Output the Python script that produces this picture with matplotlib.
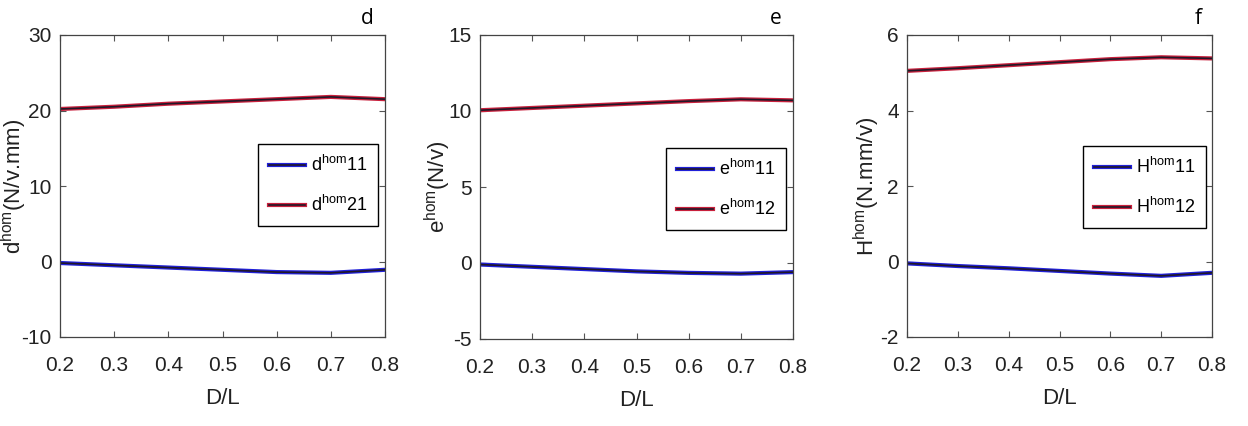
import matplotlib
matplotlib.use("Agg")
import matplotlib.pyplot as plt
import matplotlib.patheffects as pe

# D/L ratio
dl = [0.2, 0.3, 0.4, 0.5, 0.6, 0.7, 0.8]

# panel d
d11 = [-0.2, -0.5, -0.8, -1.1, -1.4, -1.5, -1.1]
d21 = [20.2, 20.5, 20.9, 21.2, 21.5, 21.8, 21.5]
# panel e
e11 = [-0.1, -0.25, -0.4, -0.55, -0.65, -0.7, -0.6]
e12 = [10.05, 10.2, 10.35, 10.5, 10.65, 10.77, 10.7]
# panel f
h11 = [-0.05, -0.12, -0.18, -0.25, -0.32, -0.38, -0.3]
h12 = [5.05, 5.12, 5.2, 5.28, 5.36, 5.41, 5.38]

panels = [
    dict(y1=d11, y2=d21, l1='d$^{\\rm hom}$11', l2='d$^{\\rm hom}$21',
         ylab='d$^{\\rm hom}$(N/v.mm)', ylim=(-10, 30), yticks=[-10, 0, 10, 20, 30], tag='d'),
    dict(y1=e11, y2=e12, l1='e$^{\\rm hom}$11', l2='e$^{\\rm hom}$12',
         ylab='e$^{\\rm hom}$(N/v)', ylim=(-5, 15), yticks=[-5, 0, 5, 10, 15], tag='e'),
    dict(y1=h11, y2=h12, l1='H$^{\\rm hom}$11', l2='H$^{\\rm hom}$12',
         ylab='H$^{\\rm hom}$(N.mm/v)', ylim=(-2, 6), yticks=[-2, 0, 2, 4, 6], tag='f'),
]

sans = ['Liberation Sans', 'DejaVu Sans']
plt.rcParams['mathtext.fontset'] = 'custom'
plt.rcParams['mathtext.rm'] = 'Liberation Sans'
plt.rcParams['mathtext.it'] = 'Liberation Sans:italic'

fig = plt.figure(figsize=(12.48, 4.26), dpi=100)
W, H = 1248, 426
boxes = [(60, 385, 35, 337), (480, 793, 35, 339), (907, 1212, 35, 337)]
legbox = [(284, 378, 144), (696, 786, 148), (1117, 1206, 146)]
ylab_x = [29, 453, 882]

for p, (x0, x1, y0, y1), (lx0, lx1, ly0), yx in zip(panels, boxes, legbox, ylab_x):
    ax = fig.add_axes([x0 / W, 1 - y1 / H, (x1 - x0) / W, (y1 - y0) / H])
    for y, c, lab in [(p['y1'], '#2020d8', p['l1']), (p['y2'], '#c8203c', p['l2'])]:
        ax.plot(dl, y, color='#201828', lw=1.2, label=lab,
                path_effects=[pe.Stroke(linewidth=3.0, foreground=c), pe.Normal()])
    ax.set_xlim(0.2, 0.8)
    ax.set_ylim(*p['ylim'])
    ax.set_xticks(dl)
    ax.set_xticklabels(['%.1f' % v for v in dl], family=sans, fontsize=15)
    ax.set_yticks(p['yticks'])
    ax.set_yticklabels([str(v) for v in p['yticks']], family=sans, fontsize=15)
    ax.tick_params(direction='in', top=True, right=True, length=4, color='#555555',
                   labelcolor='#222222')
    ax.tick_params(axis='x', pad=14)
    ax.tick_params(axis='y', pad=6)
    for s in ax.spines.values():
        s.set_color('#444444')
        s.set_linewidth(0.9)
    ax.set_xlabel('D/L', family=sans, fontsize=16, labelpad=9, color='#222222')
    ax.set_ylabel(p['ylab'], fontsize=16, family=sans, color='#222222')
    ax.yaxis.set_label_coords((yx - x0) / (x1 - x0), 0.5)
    ax.text(0.965, 1.02, p['tag'], transform=ax.transAxes, ha='right', va='bottom',
            fontsize=15, family='Open Sans')
    leg = ax.legend(loc='upper right',
                    bbox_to_anchor=((lx1 - x0) / (x1 - x0), (y1 - ly0) / (y1 - y0)),
                    prop={'family': sans, 'size': 13}, fancybox=False,
                    edgecolor='black', framealpha=1, handlelength=2.0,
                    borderaxespad=0, labelspacing=1.1, handletextpad=0.3,
                    borderpad=0.6)
    leg.get_frame().set_linewidth(1.0)

fig.savefig('out.png', dpi=100)
